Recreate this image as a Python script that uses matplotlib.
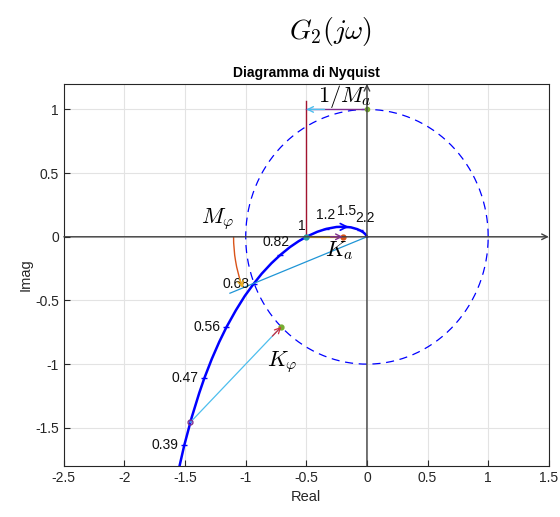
import numpy as np
import matplotlib
matplotlib.use("Agg")
import matplotlib.pyplot as plt
from matplotlib.patches import Arc

plt.rcParams['font.family'] = ['Liberation Sans', 'DejaVu Sans']
plt.rcParams['mathtext.fontset'] = 'cm'

# Nyquist curve G2(jw) (real, imag)
re_curve = [-1.547, -1.507, -1.445, -1.383, -1.342, -1.280, -1.219, -1.159, -1.081,
            -1.007, -0.935, -0.868, -0.788, -0.715, -0.635, -0.564, -0.500, -0.410,
            -0.336, -0.251, -0.189, -0.132, -0.080, -0.059, -0.033, -0.016, -0.007,
            -0.0015, -0.0002, 0.0]
im_curve = [-1.805, -1.638, -1.417, -1.226, -1.112, -0.960, -0.827, -0.710, -0.577,
            -0.464, -0.370, -0.290, -0.208, -0.143, -0.081, -0.035, 0.0, 0.039,
            0.062, 0.077, 0.079, 0.074, 0.060, 0.051, 0.037, 0.023, 0.013,
            0.004, 0.001, 0.0]

# frequency labels along the curve
w_labels = ['0.39', '0.47', '0.56', '0.68', '0.82', '1', '1.2', '1.5', '2.2']
re_lab = [-1.507, -1.342, -1.159, -0.935, -0.715, -0.500, -0.336, -0.189, -0.059]
im_lab = [-1.638, -1.112, -0.710, -0.370, -0.143, 0.0, 0.062, 0.079, 0.051]
lab_offsets = [(-4, 0), (-4, 0), (-4, 0), (-3, 0), (-3, 9), (-3, 8), (-0.5, 10), (1.5, 11), (4, 9)]
lab_ha = ['right', 'right', 'right', 'right', 'center', 'center', 'center', 'center', 'center']

# margins
gm_point = -0.5          # crossing of negative real axis
ka_end = -0.2
pm_line_end = (-1.13, -0.443)
pm_angle = 201.4
kphi_start = (-1.457, -1.457)
kphi_end = (-0.707, -0.707)

fig = plt.figure(figsize=(5.6, 5.17), dpi=100)
ax = fig.add_axes([0.114, 0.0986, 0.866, 0.739])

ax.set_xlim(-2.5, 1.5)
ax.set_ylim(-1.8, 1.2)
ax.set_xticks(np.arange(-2.5, 1.51, 0.5))
ax.set_xticklabels(['-2.5', '-2', '-1.5', '-1', '-0.5', '0', '0.5', '1', '1.5'])
ax.set_yticks([-1.5, -1, -0.5, 0, 0.5, 1])
ax.set_yticklabels(['-1.5', '-1', '-0.5', '0', '0.5', '1'])
ax.tick_params(direction='in', length=4, labelsize=10, colors='#262626')
ax.grid(True, color='#e3e3e3', lw=0.8)
ax.set_axisbelow(True)
for s in ax.spines.values():
    s.set_color('#262626')
    s.set_linewidth(0.8)

# unit circle
th = np.linspace(0, 2 * np.pi, 400)
ax.plot(np.cos(th), np.sin(th), '--', color='#0000ff', lw=0.9, dashes=(6.5, 4.5))

# axes with arrows
ax.annotate('', xy=(1.5, 0), xytext=(-2.5, 0),
            arrowprops=dict(arrowstyle='->', color='#404040', lw=1, shrinkA=0, shrinkB=0),
            annotation_clip=False)
ax.annotate('', xy=(0, 1.2), xytext=(0, -1.8),
            arrowprops=dict(arrowstyle='->', color='#404040', lw=1, shrinkA=0, shrinkB=0),
            annotation_clip=False)

# red vertical at -0.5
ax.plot([gm_point, gm_point], [0, 1.07], color='#A2142F', lw=1)

# 1/Ma arrow
ax.plot([gm_point, 0], [1, 1], color='#7E2F8E', lw=1)
ax.annotate('', xy=(gm_point, 1), xytext=(-0.35, 1),
            arrowprops=dict(arrowstyle='->', color='#4DBEEE', lw=1, shrinkA=0, shrinkB=0))
ax.plot([0], [1], 'o', color='#77AC30', ms=3)
ax.text(-0.18, 1.1, r'$1/M_a$', fontsize=16, ha='center', va='center')

# Nyquist curve
ax.plot(re_curve, im_curve, color='#0000ff', lw=1.8)
ax.plot(re_lab, im_lab, '_', color='#0000ff', ms=5, mew=1)
ax.annotate('', xy=(-0.15, 0.078), xytext=(-0.23, 0.078),
            arrowprops=dict(arrowstyle='->', color='#0000ff', lw=1.2, mutation_scale=12,
                            shrinkA=0, shrinkB=0))
for lab, x, y, off, ha in zip(w_labels, re_lab, im_lab, lab_offsets, lab_ha):
    ax.annotate(lab, xy=(x, y), xytext=off, textcoords='offset points',
                ha=ha, va='center', fontsize=10, color='#111111')

# gain margin
ax.plot([gm_point, ka_end], [0, 0], color='#EDB120', lw=1.6)
ax.annotate('', xy=(ka_end, 0), xytext=(-0.3, 0),
            arrowprops=dict(arrowstyle='->', color='#7E2F8E', lw=1, shrinkA=0, shrinkB=0))
ax.plot([ka_end], [0], 'o', color='#D95319', ms=3.5)
ax.plot([gm_point], [0], 'o', color='#2aa3a3', ms=3.5)
ax.text(-0.23, -0.11, r'$K_a$', fontsize=16, ha='center', va='center')

# phase margin
ax.plot([0, pm_line_end[0]], [0, pm_line_end[1]], color='#1f95d6', lw=0.9)
ax.add_patch(Arc((0, 0), 2.2, 2.2, theta1=180, theta2=pm_angle - 1.5,
                 color='#D95319', lw=1))
ax.annotate('', xy=(-1.1 * np.cos(np.radians(pm_angle - 180)),
                    -1.1 * np.sin(np.radians(pm_angle - 180))),
            xytext=(-1.1 * np.cos(np.radians(pm_angle - 184)),
                    -1.1 * np.sin(np.radians(pm_angle - 184))),
            arrowprops=dict(arrowstyle='->', color='#EDB120', lw=1, shrinkA=0, shrinkB=0))
ax.text(-1.23, 0.14, r'$M_\varphi$', fontsize=16, ha='center', va='center')

# K_phi
ax.plot([kphi_start[0], kphi_end[0]], [kphi_start[1], kphi_end[1]], color='#4DBEEE', lw=0.9)
ax.annotate('', xy=kphi_end, xytext=(-0.78, -0.78),
            arrowprops=dict(arrowstyle='->', color='#d0303f', lw=0.9, shrinkA=0, shrinkB=0))
ax.plot([kphi_end[0]], [kphi_end[1]], 'o', color='#77AC30', ms=3.5)
ax.plot([kphi_start[0]], [kphi_start[1]], 'o', mfc='none', mec='#7E2F8E', ms=3.5)
ax.text(-0.7, -0.98, r'$K_\varphi$', fontsize=16, ha='center', va='center')

ax.set_title('Diagramma di Nyquist', fontsize=10, fontweight='bold', pad=5)
ax.set_xlabel('Real', fontsize=10.5, color='#262626')
ax.set_ylabel('Imag', fontsize=10.5, color='#262626', labelpad=2)

fig.text(0.59, 0.94, r'$G_2(j\omega)$', fontsize=20, ha='center', va='center')

fig.savefig('out.png', dpi=100)
